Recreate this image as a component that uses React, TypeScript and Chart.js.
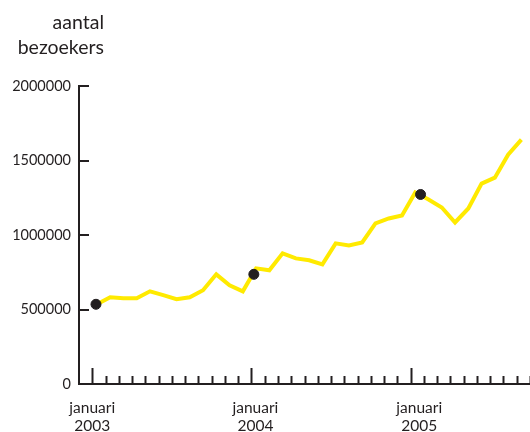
import { useEffect, useRef } from 'react';
import { Chart, registerables } from 'chart.js';

Chart.register(...registerables);

// Monthly visitors, January 2003 .. September 2005
const monthLabels = ['januari', 'januari', 'januari'];
const yearLabels = ['2003', '2004', '2005'];
const labelMonths = [0, 12.3, 24.65];
const visitors = [
  535000, 582000, 575000, 575000, 622000, 596000, 569000, 582000, 629000, 736000, 663000, 622000,
  776000, 763000, 877000, 843000, 830000, 803000, 944000, 930000, 950000, 1078000, 1111000, 1131000,
  1285000, 1238000, 1185000, 1084000, 1178000, 1345000, 1385000, 1539000, 1640000,
];
// highlighted January readings (month index, value)
const markerMonths = [0.28, 12.18, 24.75];
const markerValues = [535000, 736000, 1272000];
const yTicks = [0, 500000, 1000000, 1500000, 2000000];
const titleLines = ['aantal', 'bezoekers'];
const MONTH_TICKS = 34;
const SAMPLE_OFFSET = 0.35; // readings taken a little after the start of each month

const INK = '#231f20';
const FONT = 'Lato';

const innerTicks = {
  id: 'innerTicks',
  afterDraw(chart: any) {
    const { ctx, chartArea, scales } = chart;
    const x = scales.x;
    const y = scales.y;
    ctx.save();
    ctx.strokeStyle = INK;
    ctx.lineWidth = 2;
    for (let m = 0; m < MONTH_TICKS; m++) {
      const px = Math.round(x.getPixelForValue(m)) + 0.5;
      const len = m % 12 === 0 ? 16 : 8;
      ctx.beginPath();
      ctx.moveTo(px, chartArea.bottom);
      ctx.lineTo(px, chartArea.bottom - len);
      ctx.stroke();
    }
    for (const v of yTicks) {
      const py = Math.round(y.getPixelForValue(v));
      ctx.beginPath();
      ctx.moveTo(chartArea.left, py);
      ctx.lineTo(chartArea.left + 10, py);
      ctx.stroke();
    }
    ctx.fillStyle = INK;
    ctx.textBaseline = 'alphabetic';
    ctx.textAlign = 'center';
    ctx.font = `15.5px ${FONT}`;
    labelMonths.forEach((m, i) => {
      const px = x.getPixelForValue(m);
      ctx.fillText(monthLabels[i], px, chartArea.bottom + 28.5);
      ctx.fillText(yearLabels[i], px, chartArea.bottom + 46.5);
    });
    ctx.font = `19.5px ${FONT}`;
    ctx.textAlign = 'right';
    ctx.fillText(titleLines[0], 104, 28.5);
    ctx.fillText(titleLines[1], 104, 54);
    ctx.restore();
  },
};

export default function App() {
  const ref = useRef<HTMLCanvasElement | null>(null);
  useEffect(() => {
    if (!ref.current) return;
    const chart = new Chart(ref.current, {
      type: 'line',
      data: {
        datasets: [
          {
            type: 'scatter',
            data: markerMonths.map((m, i) => ({ x: m, y: markerValues[i] })),
            backgroundColor: INK,
            borderColor: INK,
            pointRadius: 5,
            showLine: false,
          },
          {
            data: visitors.map((v, i) => ({ x: i + SAMPLE_OFFSET, y: v })),
            borderColor: '#ffea00',
            borderWidth: 4,
            pointRadius: 0,
            tension: 0,
            fill: false,
          },
        ],
      },
      plugins: [innerTicks],
      options: {
        animation: false,
        responsive: false,
        maintainAspectRatio: false,
        layout: { autoPadding: false, padding: { top: 86, left: 0, right: 0, bottom: 0 } },
        plugins: { legend: { display: false }, tooltip: { enabled: false }, title: { display: false } },
        scales: {
          x: {
            type: 'linear',
            min: -1,
            max: 33,
            afterBuildTicks: (s: any) => {
              s.ticks = [{ value: 0 }];
            },
            afterFit: (s: any) => {
              s.height = 48;
              s.paddingLeft = 0;
              s.paddingRight = 0;
            },
            grid: { display: true, drawOnChartArea: false, drawTicks: false },
            border: { display: true, color: INK, width: 2 },
            ticks: { display: false },
          },
          y: {
            min: 0,
            max: 2000000,
            afterBuildTicks: (s: any) => {
              s.ticks = yTicks.map((v) => ({ value: v }));
            },
            afterFit: (s: any) => {
              s.width = 79;
              s.paddingTop = 0;
              s.paddingBottom = 0;
            },
            grid: { display: true, drawOnChartArea: false, drawTicks: false },
            border: { display: true, color: INK, width: 2 },
            ticks: {
              padding: 8,
              color: INK,
              font: { family: FONT, size: 14.5 },
              callback: (v: any) => String(v),
            },
          },
        },
      },
    });
    return () => chart.destroy();
  }, []);
  return (
    <div style={{ position: 'fixed', left: 0, top: 0, width: 530, height: 432, background: '#fff' }}>
      <canvas ref={ref} width={530} height={432} style={{ width: 530, height: 432 }} />
    </div>
  );
}
